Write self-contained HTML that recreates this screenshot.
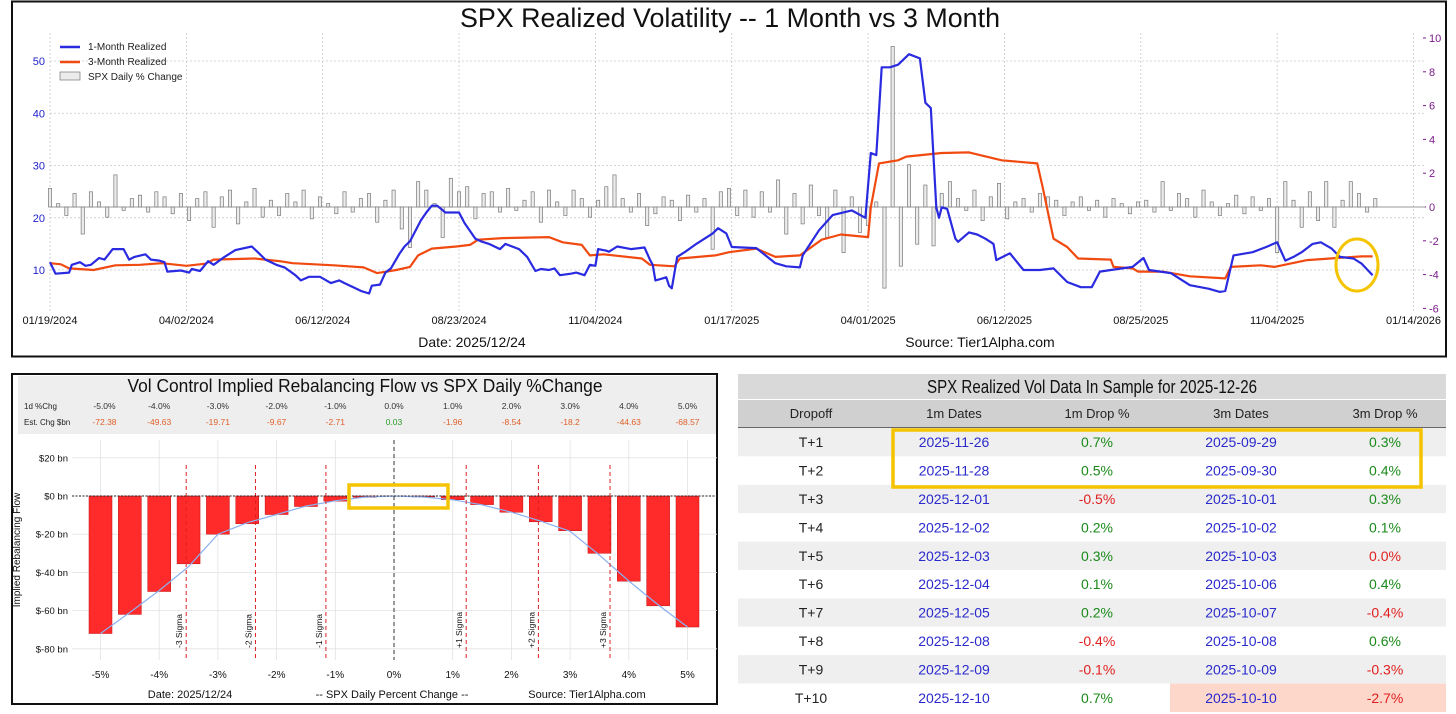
<!DOCTYPE html>
<html><head><meta charset="utf-8"><style>
html,body{margin:0;padding:0;background:#fff;width:1456px;height:714px;overflow:hidden}
svg{display:block;font-family:"Liberation Sans Narrow","Liberation Sans",sans-serif}
</style></head><body>
<svg id="s" width="1456" height="714" viewBox="0 0 1456 714" xmlns="http://www.w3.org/2000/svg">
<rect x="0" y="0" width="1456" height="714" fill="#fff"/>
<rect x="12" y="1.5" width="1434" height="355" fill="#fff" stroke="#111" stroke-width="2"/>
<text x="730" y="27" font-size="27" text-anchor="middle" textLength="540" lengthAdjust="spacingAndGlyphs" fill="#111">SPX Realized Volatility -- 1 Month vs 3 Month</text>
<g id="topchart"></g>
<text x="472" y="347" font-size="14" text-anchor="middle" fill="#111">Date: 2025/12/24</text>
<text x="980" y="347" font-size="14" text-anchor="middle" fill="#111">Source: Tier1Alpha.com</text>

<rect x="12" y="374" width="705" height="330" fill="#fff" stroke="#111" stroke-width="2"/>
<rect x="18" y="376" width="698" height="58" fill="#eeeeee"/>
<text x="365" y="392" font-size="18" text-anchor="middle" textLength="475" lengthAdjust="spacingAndGlyphs" fill="#111">Vol Control Implied Rebalancing Flow vs SPX Daily %Change</text>
<text x="24" y="409" font-size="8" fill="#222">1d %Chg</text>
<text x="24" y="425" font-size="8" fill="#222">Est. Chg $bn</text>
<g id="flow"></g>
<text x="20" y="550" font-size="10" text-anchor="middle" transform="rotate(-90 20 550)" fill="#111">Implied Rebalancing Flow</text>
<text x="190" y="698" font-size="11" text-anchor="middle" fill="#111">Date: 2025/12/24</text>
<text x="392" y="698" font-size="11" text-anchor="middle" fill="#111">-- SPX Daily Percent Change --</text>
<text x="587" y="698" font-size="11" text-anchor="middle" fill="#111">Source: Tier1Alpha.com</text>

<g id="tbl">
<rect x="738" y="374" width="708" height="25" fill="#d9d9d9"/>
<text x="1092" y="393" font-size="18" text-anchor="middle" textLength="330" lengthAdjust="spacingAndGlyphs" fill="#111">SPX Realized Vol Data In Sample for 2025-12-26</text>
<rect x="738" y="400" width="708" height="27" fill="#d0d0d0"/>
<line x1="738" y1="428" x2="1446" y2="428" stroke="#333" stroke-width="1.5"/>
<text x="811" y="418" font-size="13" text-anchor="middle" fill="#222">Dropoff</text>
<text x="954" y="418" font-size="13" text-anchor="middle" fill="#222">1m Dates</text>
<text x="1097" y="418" font-size="13" text-anchor="middle" fill="#222">1m Drop %</text>
<text x="1241" y="418" font-size="13" text-anchor="middle" fill="#222">3m Dates</text>
<text x="1385" y="418" font-size="13" text-anchor="middle" fill="#222">3m Drop %</text>
</g>
</svg>
<script>
const dateTickLabels=["01/19/2024","04/02/2024","06/12/2024","08/23/2024","11/04/2024","01/17/2025","04/01/2025","06/12/2025","08/25/2025","11/04/2025","01/14/2026"];
const dateTickDays=[0,50,100,150,200,250,300,350,400,450,500];
const leftTicks=[10,20,30,40,50];
const rightTicks=[-6,-4,-2,0,2,4,6,8,10];
const days1m=[0,2,7,8,11,13,15,18,20,23,27,29,31,35,37,40,42,43,48,51,52,55,58,60,64,68,74,76,79,83,86,90,92,95,99,103,106,108,112,114,117,118,121,123,125,128,130,132,136,138,140,142,145,150,152,156,158,161,165,167,172,175,178,180,183,185,187,191,193,196,198,200,201,204,205,208,213,218,220,221,222,224,226,227,228,230,233,237,240,243,245,248,250,259,266,270,275,276,282,287,294,299,301,303,305,308,311,315,319,321,323,325,326,327,329,332,333,337,340,343,346,347,352,354,357,363,368,373,378,382,385,389,397,401,403,411,418,425,429,431,434,441,446,450,453,456,459,463,466,470,473,478,481,485];
const vals1m=[11.5,9.3,9.5,11,11.5,10.8,11,12.3,12,14,14,12,12.5,13,12,11.8,11.5,9.7,9.9,9.5,10.2,9.8,11.7,11,12.5,13.8,14.5,13.5,12,11,10.5,9,8,8.7,8.7,7.5,8,7.5,6.5,6,5.5,7,7.2,9.5,10.3,13,14.5,15.5,19.5,21,22.3,22.3,21,21,19,16,15.5,15,14,15,14,12.5,9.8,10.2,10,10.3,9,9.3,9.5,9,11,10.8,14,13.7,13.5,14.5,14,14.3,12,11,8,8.3,8.6,7,6.5,12.5,13.5,15,16,17,18,17,14.4,14.2,11.3,10.7,10.5,12.8,17.6,20.5,21.4,20,32.4,32,48.8,48.8,49.3,51.3,50.5,42,41,22,20,22,21.7,16,15.4,17.2,16.8,16,15,11.9,13.2,11.9,10,10,10.3,7.7,6.7,6.7,9.7,10,10.6,12.3,10,9.4,7.1,6.4,5.8,6,12.8,13.4,14.4,15.3,11.8,12.5,13.4,15,15.3,14.1,12.5,12.2,11.2,9.0];
const days3m=[0,4,7,16,24,33,41,50,57,60,75,84,89,104,115,120,127,132,135,140,149,154,157,166,183,188,195,198,203,217,220,229,231,244,249,259,266,275,283,290,300,301,304,311,314,327,337,349,362,364,368,373,377,389,390,397,399,408,418,431,433,444,449,461,472,481,485];
const vals3m=[11.3,11.1,10.3,10.0,10.9,11.0,11.3,10.8,11.2,12.0,12.2,11.7,11.3,10.9,10.5,9.4,10,10.6,12.8,14.1,14.5,14.8,15.8,16.1,16.3,15.3,14.8,12.8,13,12.2,11,10.7,12.2,12.8,13.4,14.1,12.5,12.8,15.8,16.8,16.3,22,30.4,31,31.7,32.4,32.5,31,30.4,25.9,16,14.4,12.2,12,10.6,10.3,9.7,9.7,8.8,8.4,10.6,10.9,10.6,11.9,12.3,12.6,12.6];
const barVals=[1.1,0.2,-0.5,0.8,-1.6,0.9,0.3,-0.6,1.9,-0.2,0.5,0.7,-0.3,0.9,0.6,-0.4,0.8,
-0.8,0.5,0.9,-1.2,0.6,1.0,-1.0,0.3,1.1,-0.6,0.4,-0.5,0.8,0.3,1.0,-0.7,0.6,
0.2,-0.4,0.9,-0.3,0.5,0.8,-0.9,0.4,1.0,-1.3,-2.4,1.5,1.0,0.2,-1.8,1.7,0.9,
1.2,-0.7,0.8,0.9,-0.3,1.1,-0.2,0.4,0.9,-0.9,1.0,0.3,-0.5,1.0,0.5,-0.6,0.4,
1.2,1.9,0.5,-0.3,0.8,-1.1,-0.4,0.6,0.4,-0.8,0.7,-0.3,0.5,-2.5,0.9,1.1,-0.5,
1.0,-0.6,0.9,-0.3,1.6,-1.6,0.8,-1.0,1.3,-0.5,-1.8,1.0,-2.7,0.6,-1.5,-1.1,0.3,
-4.8,9.5,-3.5,2.5,-2.2,1.3,-2.3,0.8,1.5,0.5,-0.2,1.0,-0.8,0.6,1.4,-0.7,0.3,
0.5,-0.3,0.8,0.6,0.4,-0.5,0.3,0.6,-0.2,0.4,-0.6,0.5,0.2,-0.4,0.3,0.4,-0.3,
1.5,-0.2,0.8,0.5,-0.6,1.0,0.3,-0.5,0.2,0.7,-0.4,0.6,-0.2,0.5,-2.7,1.5,0.4,
-1.2,0.9,-0.8,1.5,-1.2,0.4,1.5,0.8,-0.3,0.5];
const barStepDays=3;

const flowPct=[-5,-4.5,-4,-3.5,-3,-2.5,-2,-1.5,-1,-0.5,0,0.5,1,1.5,2,2.5,3,3.5,4,4.5,5];
const flowVals=[-72,-62,-50,-35.5,-20,-14.5,-9.7,-5.5,-2.7,-0.7,0.03,-0.5,-1.96,-4.5,-8.5,-13.5,-18.2,-30,-44.6,-57.5,-68.6];
const curveVals=[-72,-61,-49.5,-37,-20,-14,-9.7,-5.3,-2.5,-0.6,0,-0.5,-2,-4.6,-8.5,-13.2,-18.5,-31,-44.5,-57,-68.6];
const headerPct=["-5.0%","-4.0%","-3.0%","-2.0%","-1.0%","0.0%","1.0%","2.0%","3.0%","4.0%","5.0%"];
const headerPctVals=[-5,-4,-3,-2,-1,0,1,2,3,4,5];
const headerEst=["-72.38","-49.63","-19.71","-9.67","-2.71","0.03","-1.96","-8.54","-18.2","-44.63","-68.57"];
const sigmaLabels=["-3 Sigma","-2 Sigma","-1 Sigma","+1 Sigma","+2 Sigma","+3 Sigma"];
const sigmaPct=[-3.54,-2.36,-1.16,1.23,2.46,3.68];
const flowYTicks=[20,0,-20,-40,-60,-80];
const flowYTickLabels=["$20 bn","$0 bn","$-20 bn","$-40 bn","$-60 bn","$-80 bn"];
const flowXTicks=[-5,-4,-3,-2,-1,0,1,2,3,4,5];

const tDrop=["T+1","T+2","T+3","T+4","T+5","T+6","T+7","T+8","T+9","T+10"];
const t1mDates=["2025-11-26","2025-11-28","2025-12-01","2025-12-02","2025-12-03","2025-12-04","2025-12-05","2025-12-08","2025-12-09","2025-12-10"];
const t1mDrop=[0.7,0.5,-0.5,0.2,0.3,0.1,0.2,-0.4,-0.1,0.7];
const t3mDates=["2025-09-29","2025-09-30","2025-10-01","2025-10-02","2025-10-03","2025-10-06","2025-10-07","2025-10-08","2025-10-09","2025-10-10"];
const t3mDrop=[0.3,0.4,0.3,0.1,0.0,0.4,-0.4,0.6,-0.3,-2.7];

const NS="http://www.w3.org/2000/svg";
function mk(tag,attrs,parent){const e=document.createElementNS(NS,tag);for(const k in attrs)e.setAttribute(k,attrs[k]);parent.appendChild(e);return e;}

const topG=document.getElementById('topchart');
const xD=d=>50+d*2.727;
const yL=v=>270-(v-10)*5.225;
const yR=v=>207-v*16.9;
const PL=50,PR=1425,PT=33,PB=312;
dateTickDays.forEach((d,i)=>{
  const g=mk('line',{x1:xD(d),x2:xD(d),y1:PT,y2:PB,stroke:'#c8c8c8','stroke-dasharray':'2,2','stroke-width':0.8},topG);
  
  
  const t=mk('text',{x:xD(d),y:324,'font-size':11,'text-anchor':'middle',fill:'#111'},topG);
  t.textContent=dateTickLabels[i];
  
  
});
leftTicks.forEach(v=>{
  const g=mk('line',{x1:PL,x2:PR,y1:yL(v),y2:yL(v),stroke:'#c8c8c8','stroke-dasharray':'2,2','stroke-width':0.8},topG);
  
  
  const t=mk('text',{x:45,y:yL(v)+4,'font-size':11,'text-anchor':'end',fill:'#2222cc'},topG);
  t.textContent=v;
  
  
});
rightTicks.forEach(v=>{
  const t=mk('text',{x:1429,y:yR(v)+4,'font-size':11,fill:'#7a1a8a'},topG);
  t.textContent=(v<0?'-':'')+Math.abs(v);
  
  
  mk('line',{x1:1423,x2:1426,y1:yR(v),y2:yR(v),stroke:'#7a1a8a'},topG);
});
const zl=mk('line',{x1:PL,x2:PR,y1:yR(0),y2:yR(0),stroke:'#999','stroke-width':1},topG);


barVals.forEach((v,i)=>{
  const d=i*barStepDays, y0=yR(0), y1=yR(v);
  const r=mk('rect',{x:xD(d)-1.6,y:Math.min(y0,y1),width:3.2,height:Math.max(0.5,Math.abs(y1-y0)),fill:'#ececec',stroke:'#777','stroke-width':0.7},topG);
  
  
});
function linePath(days,vals){return days.map((d,i)=>(i?'L':'M')+xD(d).toFixed(1)+','+yL(vals[i]).toFixed(1)).join(' ');}
const p3=mk('path',{d:linePath(days3m,vals3m),fill:'none',stroke:'#f04a10','stroke-width':2.2,'stroke-linejoin':'round'},topG);


const p1=mk('path',{d:linePath(days1m,vals1m),fill:'none',stroke:'#2a2ae0','stroke-width':2.2,'stroke-linejoin':'round'},topG);


const el=mk('ellipse',{cx:1357,cy:265,rx:21,ry:26,fill:'none',stroke:'#f5c400','stroke-width':3},topG);


const lg=mk('g',{},topG);


mk('line',{x1:60,x2:80,y1:47,y2:47,stroke:'#2a2ae0','stroke-width':2.5},lg);
mk('line',{x1:60,x2:80,y1:62,y2:62,stroke:'#f04a10','stroke-width':2.5},lg);
mk('rect',{x:60,y:72,width:20,height:8,fill:'#ececec',stroke:'#777','stroke-width':0.7},lg);
[['1-Month Realized',50],['3-Month Realized',65],['SPX Daily % Change',80]].forEach(a=>{
  const t=mk('text',{x:88,y:a[1],'font-size':10,fill:'#222'},lg);t.textContent=a[0];
  
  
});

const fl=document.getElementById('flow');
const xp=p=>394+p*58.7;
const yf=v=>496-v*1.91;
headerPctVals.forEach((p,i)=>{
  const a=mk('text',{x:xp(p)+(i===0?4:0),y:409,'font-size':8.5,'text-anchor':'middle',fill:'#333'},fl);a.textContent=headerPct[i];
  
  
  const b=mk('text',{x:xp(p)+(i===0?4:0),y:425,'font-size':8.5,'text-anchor':'middle',fill:parseFloat(headerEst[i])>0?'#2a9a2a':'#e0602a'},fl);b.textContent=headerEst[i];
  
  
});
flowXTicks.forEach(p=>{
  const g=mk('line',{x1:xp(p),x2:xp(p),y1:440,y2:660,stroke:'#e2e2e2','stroke-width':0.8},fl);
  
  
  const t=mk('text',{x:xp(p),y:678,'font-size':10,'text-anchor':'middle',fill:'#111'},fl);t.textContent=p+'%';
  
  
});
flowYTicks.forEach((v,i)=>{
  const g=mk('line',{x1:72,x2:717,y1:yf(v),y2:yf(v),stroke:'#e2e2e2','stroke-width':0.8},fl);
  
  
  const t=mk('text',{x:68,y:yf(v)+3.5,'font-size':9.5,'text-anchor':'end',fill:'#111'},fl);t.textContent=flowYTickLabels[i];
  
  
});
flowPct.forEach((p,i)=>{
  const v=flowVals[i],y0=yf(0),y1=yf(v);
  const r=mk('rect',{x:xp(p)-11.5,y:Math.min(y0,y1),width:23,height:Math.max(0.3,Math.abs(y1-y0)),fill:'#ff2a2a',stroke:'#c01010','stroke-width':0.5},fl);
  
  
});
const cv=mk('path',{d:flowPct.map((p,i)=>(i?'L':'M')+xp(p).toFixed(1)+','+yf(curveVals[i]).toFixed(1)).join(' '),fill:'none',stroke:'#8ab0f0','stroke-width':1.2},fl);


sigmaPct.forEach((p,i)=>{
  const l=mk('line',{x1:xp(p),x2:xp(p),y1:465,y2:660,stroke:'#e02020','stroke-dasharray':'4,3','stroke-width':1},fl);
  
  
  const tx=xp(p)-4, ty=648;
  const t=mk('text',{x:tx,y:ty,'font-size':8.5,fill:'#111',transform:`rotate(-90 ${tx} ${ty})`},fl);t.textContent=sigmaLabels[i];
  
  
});
const vz=mk('line',{x1:xp(0),x2:xp(0),y1:440,y2:660,stroke:'#333','stroke-dasharray':'4,3','stroke-width':1},fl);


const hz=mk('line',{x1:72,x2:717,y1:yf(0),y2:yf(0),stroke:'#222','stroke-dasharray':'2,1.5','stroke-width':1},fl);


const yr=mk('rect',{x:349,y:485,width:99,height:23,fill:'none',stroke:'#f5c400','stroke-width':3.5},fl);



const tb=document.getElementById('tbl');
const rowTop=428,rowH=28.4;
const colX=[811,954,1097,1241,1385];
const pctStr=v=>(v<0?'-':'')+Math.abs(v).toFixed(1)+'%';
tDrop.forEach((d,i)=>{
  const y=rowTop+i*rowH;
  const bg=mk('rect',{x:738,y:y,width:708,height:rowH,fill:i%2===0?'#efefef':'#ffffff'},tb);
  
  
  if(t3mDrop[i]<-1){mk('rect',{x:1170,y:y,width:276,height:rowH,fill:'#fdd8ca'},tb);}
  const cy=y+rowH/2+5;
  const cells=[[d,'#222'],[t1mDates[i],'#2a2acc'],[pctStr(t1mDrop[i]),t1mDrop[i]>0?'#1a8a1a':'#e02020'],[t3mDates[i],'#2a2acc'],[pctStr(t3mDrop[i]),t3mDrop[i]>0?'#1a8a1a':'#e02020']];
  cells.forEach((c,j)=>{
    const t=mk('text',{x:colX[j],y:cy,'font-size':14,'text-anchor':'middle',fill:c[1]},tb);t.textContent=c[0];
    
    
  });
});
const tr=mk('rect',{x:893,y:430,width:528,height:57,fill:'none',stroke:'#f5c400','stroke-width':3.5},tb);


</script>
</body></html>
